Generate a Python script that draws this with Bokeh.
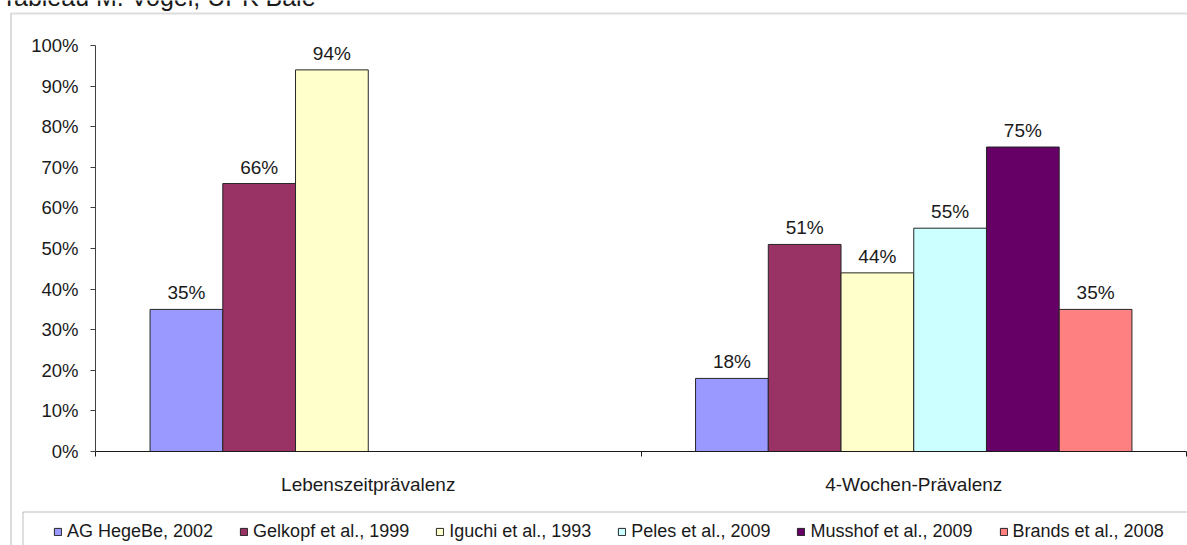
from bokeh.plotting import figure
from bokeh.models import (FixedTicker, PrintfTickFormatter, Label, BoxAnnotation,
                          Legend, LegendItem, ColumnDataSource, Range1d, LinearAxis)
from bokeh.embed import file_html
from bokeh.resources import INLINE

# ---------------- data ----------------
categories = ["Lebenszeitprävalenz", "4-Wochen-Prävalenz"]
series_names = ["AG HegeBe, 2002", "Gelkopf et al., 1999", "Iguchi et al., 1993",
                "Peles et al., 2009", "Musshof et al., 2009", "Brands et al., 2008"]
ag_hegebe = [35, 18]
gelkopf = [66, 51]
iguchi = [94, 44]
peles = [None, 55]
musshof = [None, 75]
brands = [None, 35]
series_values = [ag_hegebe, gelkopf, iguchi, peles, musshof, brands]
colors = ["#9999FF", "#993366", "#FFFFCC", "#CCFFFF", "#660066", "#FF8080"]
y_ticks = [0, 10, 20, 30, 40, 50, 60, 70, 80, 90, 100]
caption = "Tableau M. Vogel, UPK Bâle"

FONT = "Liberation Sans"
W, H = 1187, 545
# pixel layout of the plotting area inside the canvas
AX_LEFT, AX_RIGHT = 95.0, 1186.0     # x = 0 .. 2
AX_TOP, AX_BOTTOM = 45.0, 451.0      # y = 100 .. 0
px_x = (AX_RIGHT - AX_LEFT) / 2
px_y = (AX_BOTTOM - AX_TOP) / 100
x_range = Range1d(-AX_LEFT / px_x, (W - AX_LEFT) / px_x)
y_range = Range1d(-(H - AX_BOTTOM) / px_y, 100 + AX_TOP / px_y)

p = figure(width=W, height=H, x_range=x_range, y_range=y_range,
           output_backend="svg", toolbar_location=None,
           min_border=0, x_axis_type=None, y_axis_type=None)
p.outline_line_color = None
p.grid.visible = False
p.background_fill_color = "white"
p.border_fill_color = "white"

n_series = len(series_names)
bw = 1 / 7.5  # Excel-style 150% gap

items = []
for i, (name, vals, col) in enumerate(zip(series_names, series_values, colors)):
    xs, tops, labels = [], [], []
    for j, v in enumerate(vals):
        if v is None:
            continue
        xs.append(j + 0.5 + (i - (n_series - 1) / 2) * bw)
        tops.append(v)
        labels.append(f"{v}%")
    src = ColumnDataSource(dict(x=xs, top=tops, label=labels))
    r = p.vbar(x="x", top="top", bottom=0, width=bw, source=src,
               fill_color=col, line_color="#262626", line_width=1)
    p.text(x="x", y="top", text="label", source=src, text_align="center",
           text_baseline="bottom", y_offset=-6, text_font_size="19px",
           text_font={"value": FONT}, text_color="#1a1a1a")
    items.append(LegendItem(label=name, renderers=[r]))

# x axis (fixed at y = 0)
xa = LinearAxis(fixed_location=0, bounds=(0, 2))
xa.ticker = FixedTicker(ticks=[0.5, 1.5], minor_ticks=[0, 1, 2])
xa.major_label_overrides = {0.5: categories[0], 1.5: categories[1]}
xa.major_tick_out = 0
xa.major_tick_in = 0
xa.minor_tick_out = 5
xa.minor_tick_in = 0
xa.minor_tick_line_color = "#1a1a1a"
xa.axis_line_color = "#1a1a1a"
xa.major_label_standoff = 17
xa.major_label_text_font = FONT
xa.major_label_text_font_size = "19px"
xa.major_label_text_color = "#1a1a1a"
p.add_layout(xa, "below")

# y axis (fixed at x = 0)
ya = LinearAxis(fixed_location=0, bounds=(0, 100))
ya.ticker = FixedTicker(ticks=y_ticks)
ya.formatter = PrintfTickFormatter(format="%d%%")
ya.major_tick_out = 5
ya.major_tick_in = 0
ya.minor_tick_line_color = None
ya.axis_line_color = "#404040"
ya.major_tick_line_color = "#404040"
ya.major_label_standoff = 12
ya.major_label_text_font = FONT
ya.major_label_text_font_size = "18.5px"
ya.major_label_text_color = "#1a1a1a"
p.add_layout(ya, "left")

# outer chart border (screen units, frame == whole canvas)
outer = BoxAnnotation(left=10.5, right=1400, top=H - 13, bottom=-300,
                      left_units="screen", right_units="screen",
                      top_units="screen", bottom_units="screen",
                      fill_alpha=0, line_color="#8c8c8c", line_width=2)
p.add_layout(outer)

# legend box
lbox = BoxAnnotation(left=22.5, right=1400, top=H - 511.5, bottom=-300,
                     left_units="screen", right_units="screen",
                     top_units="screen", bottom_units="screen",
                     fill_alpha=0, line_color="#262626", line_width=1)
p.add_layout(lbox)

legend = Legend(items=items, orientation="horizontal",
                location=(53, H - 542),
                padding=0, margin=0, spacing=26, label_standoff=5,
                glyph_width=9, glyph_height=9,
                border_line_color=None, background_fill_alpha=0,
                label_text_font=FONT, label_text_font_size="18px",
                label_text_color="#1a1a1a")
p.add_layout(legend, "center")

cap = Label(x=1, y=H + 4, x_units="screen", y_units="screen",
            text=caption, text_font=FONT, text_font_size="25px",
            text_baseline="alphabetic", text_color="#1a1a1a")
p.add_layout(cap)

open("out.html", "w").write(file_html(p, INLINE))
